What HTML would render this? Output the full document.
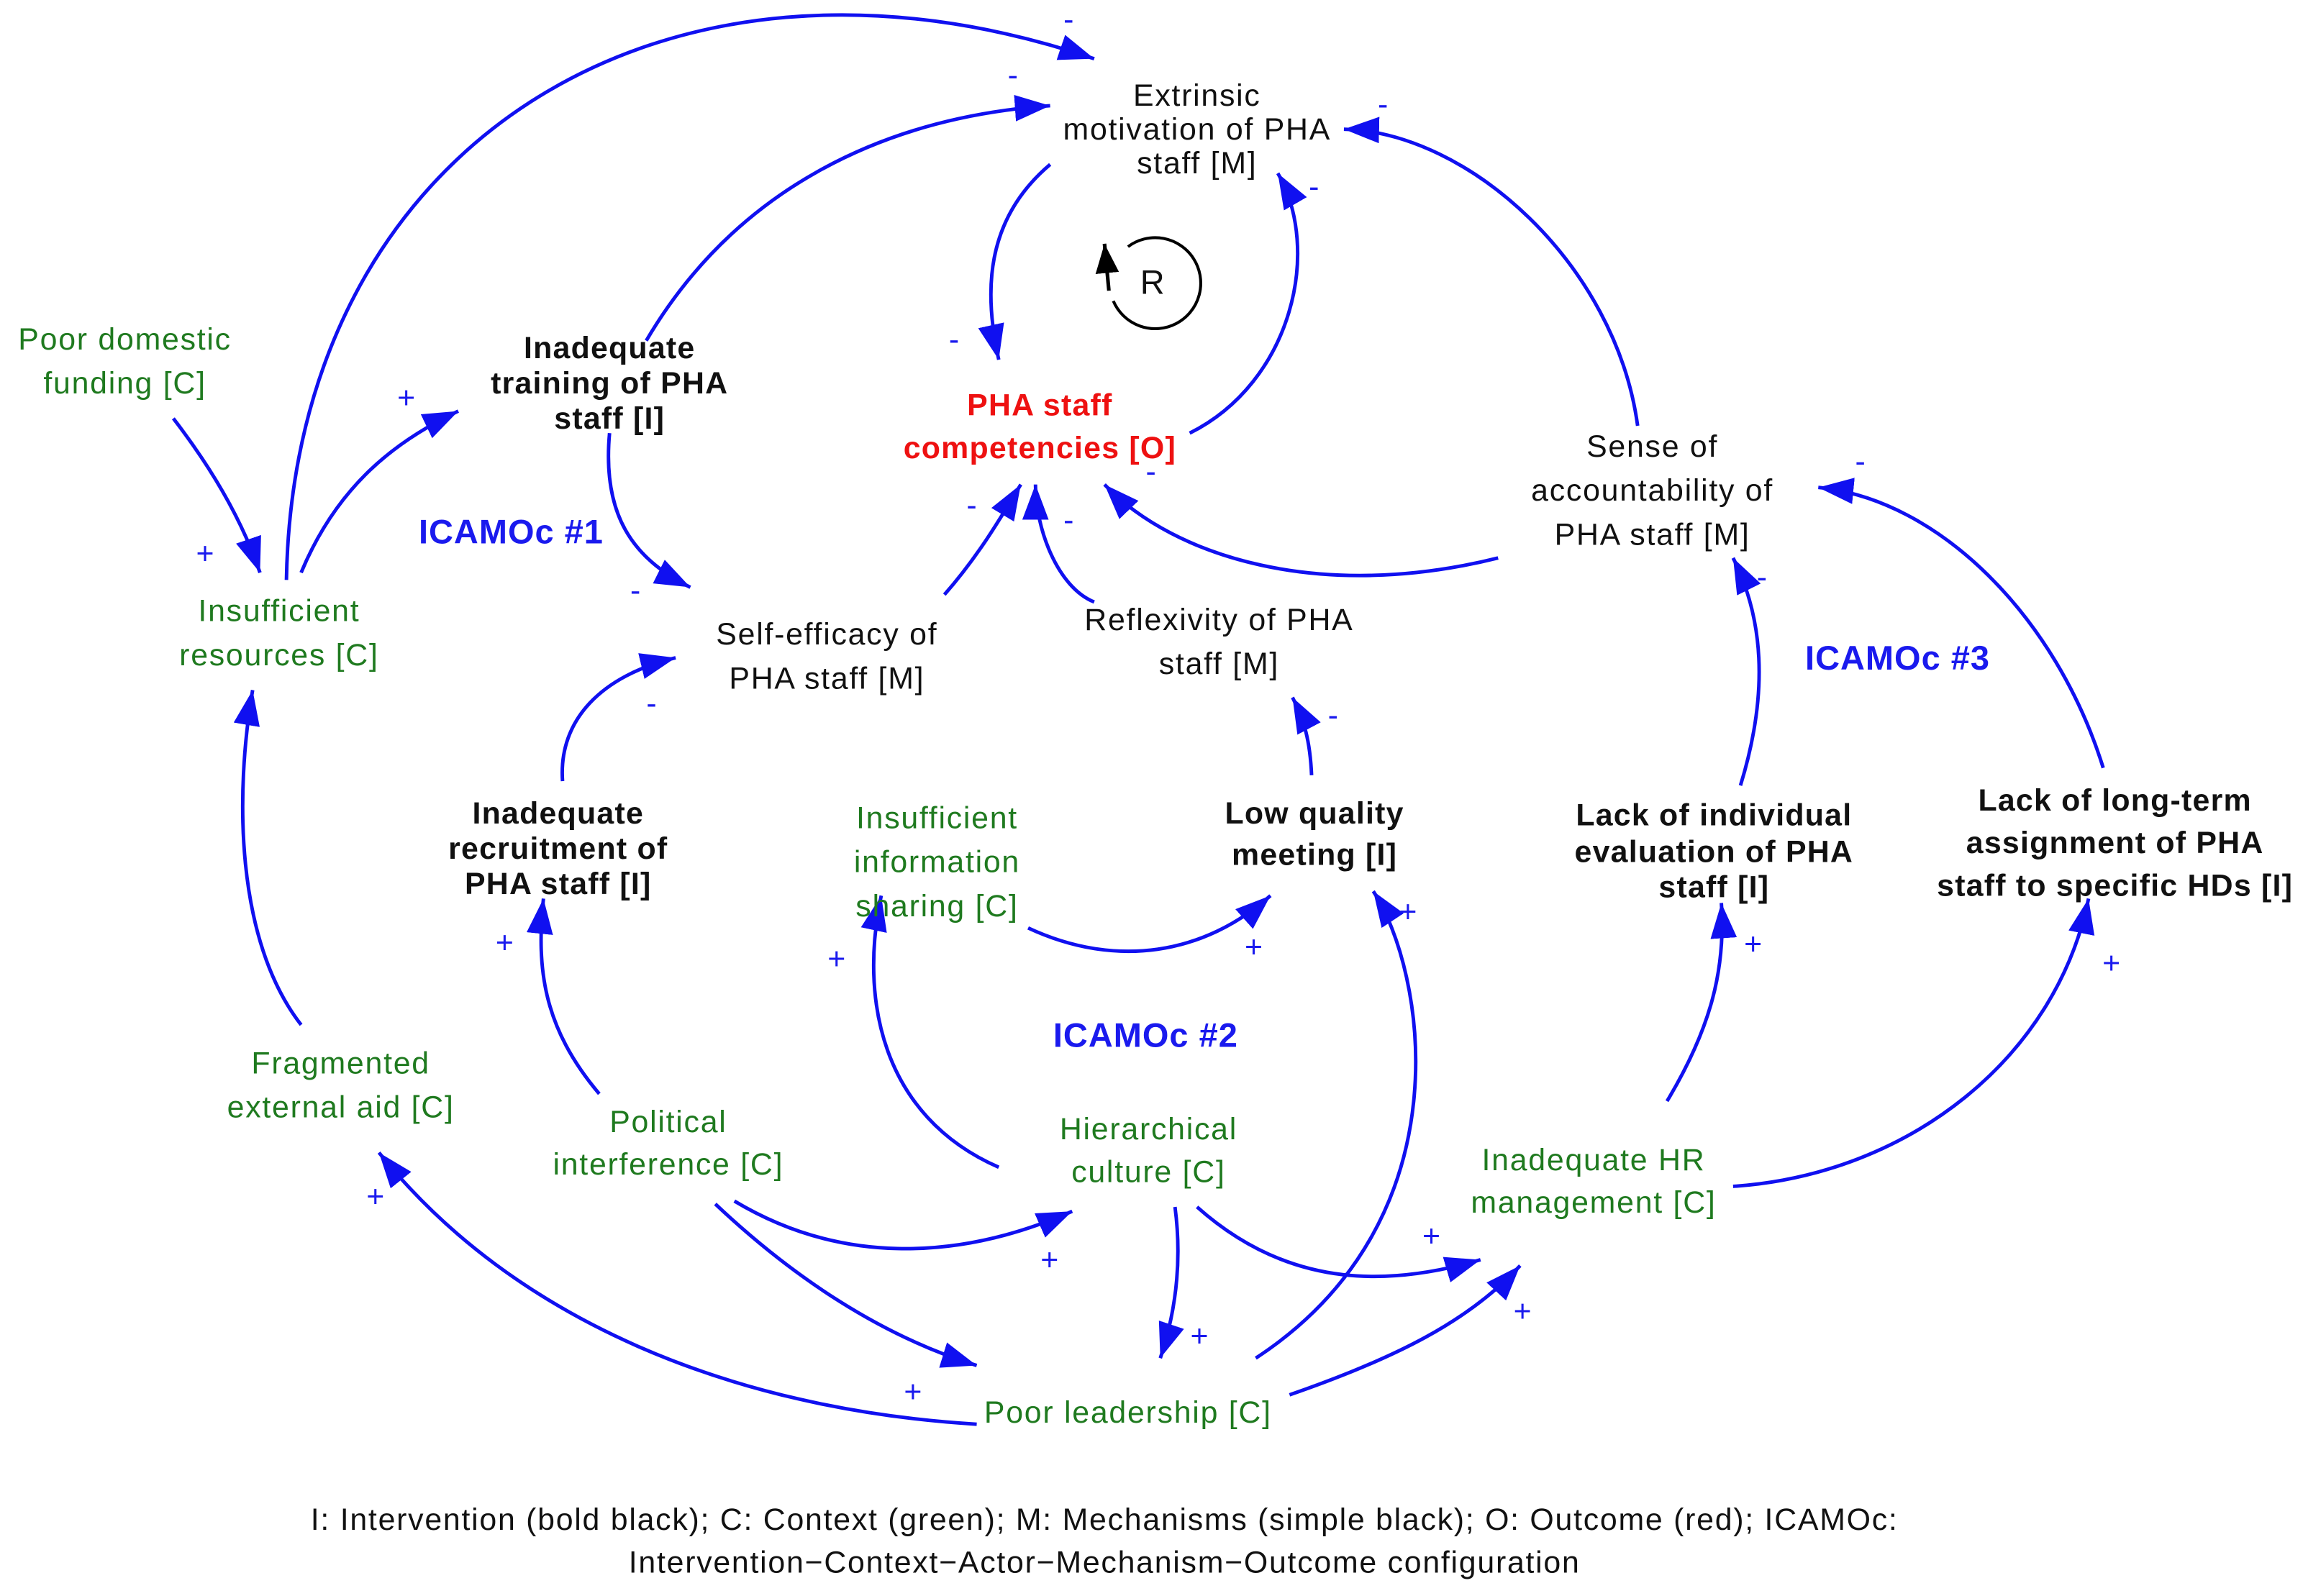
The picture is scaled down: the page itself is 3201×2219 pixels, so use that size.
<!DOCTYPE html>
<html><head><meta charset="utf-8"><style>
html,body{margin:0;padding:0;background:#fff;}
svg{display:block;}
text{font-family:"Liberation Sans","DejaVu Sans",sans-serif;font-size:21px;text-anchor:middle;letter-spacing:0.85px;}
.g{fill:#1f7a1f;}
.k{fill:#111;}
.b{font-weight:bold;fill:#111;letter-spacing:0.6px;}
.r{font-weight:bold;fill:#ee1111;letter-spacing:0.6px;}
.ic{font-weight:bold;fill:#1a1aee;font-size:23px;letter-spacing:0.5px;}
.s{fill:#1a1aee;font-size:24px;letter-spacing:0;}
path.a{fill:none;stroke:#1010f0;stroke-width:2.4;marker-end:url(#ah);}
</style></head><body>
<svg width="3201" height="2219" viewBox="0 0 1568 1087" xmlns="http://www.w3.org/2000/svg">
<defs>
<marker id="ah" markerUnits="userSpaceOnUse" markerWidth="26" markerHeight="20" refX="24" refY="9" orient="auto">
<path d="M0,0 L24,9 L0,18 z" fill="#1010f0"/>
</marker>
<marker id="bk" markerUnits="userSpaceOnUse" markerWidth="22" markerHeight="20" refX="20" refY="8" orient="auto">
<path d="M0,0 L20,8 L0,16 z" fill="#000"/>
</marker>
</defs>

<path class="a" d="M195,395 C200,100 450,-60 745,40"/>
<path class="a" d="M440,232 C500,130 600,80 715,72"/>
<path class="a" d="M715,112 C670,150 670,200 680,245"/>
<path class="a" d="M810,295 C880,260 900,170 870,118"/>
<path class="a" d="M1115,290 C1100,180 1000,90 915,88"/>
<path class="a" d="M118,285 C145,320 165,355 177,390"/>
<path class="a" d="M205,390 C230,330 270,300 312,280"/>
<path class="a" d="M415,295 C410,350 430,380 470,400"/>
<path class="a" d="M643,405 C665,380 680,355 695,330"/>
<path class="a" d="M745,410 C720,400 705,360 705,330"/>
<path class="a" d="M1020,380 C900,410 800,380 752,330"/>
<path class="a" d="M383,532 C380,490 410,460 460,448"/>
<path class="a" d="M408,745 C370,700 365,660 370,612"/>
<path class="a" d="M205,698 C160,640 160,540 172,470"/>
<path class="a" d="M893,528 C892,505 888,490 880,475"/>
<path class="a" d="M1185,535 C1205,470 1200,420 1180,380"/>
<path class="a" d="M1432,523 C1400,420 1320,340 1238,332"/>
<path class="a" d="M700,632 C760,660 820,650 865,610"/>
<path class="a" d="M680,795 C600,760 585,680 600,610"/>
<path class="a" d="M855,925 C1000,830 970,660 935,607"/>
<path class="a" d="M1135,750 C1165,700 1175,660 1172,615"/>
<path class="a" d="M1180,808 C1300,800 1400,720 1422,612"/>
<path class="a" d="M500,818 C570,860 650,860 730,825"/>
<path class="a" d="M487,820 C540,870 600,910 665,930"/>
<path class="a" d="M800,822 C805,860 800,895 790,925"/>
<path class="a" d="M815,822 C880,880 950,875 1008,858"/>
<path class="a" d="M878,950 C950,925 1000,900 1035,862"/>
<path class="a" d="M665,970 C500,960 350,900 258,785"/>

<path d="M768,168 A31,31 0 1 1 758,205" fill="none" stroke="#000" stroke-width="2"/>
<path d="M755,198 L752,166" fill="none" stroke="#000" stroke-width="2.5" marker-end="url(#bk)"/>
<text x="785" y="200" class="k" style="font-size:23px">R</text>

<g class="s">
<text x="728" y="20">-</text><text x="690" y="58">-</text><text x="650" y="238">-</text>
<text x="895" y="134">-</text><text x="784" y="328">-</text><text x="942" y="78">-</text>
<text x="140" y="384">+</text><text x="277" y="278">+</text><text x="433" y="409">-</text>
<text x="662" y="351">-</text><text x="728" y="361">-</text><text x="444" y="486">-</text>
<text x="344" y="649">+</text><text x="908" y="494">-</text><text x="1200" y="400">-</text>
<text x="1267" y="321">-</text><text x="854" y="652">+</text><text x="570" y="660">+</text>
<text x="959" y="628">+</text><text x="1194" y="650">+</text><text x="1438" y="663">+</text>
<text x="715" y="865">+</text><text x="622" y="955">+</text><text x="817" y="917">+</text>
<text x="975" y="849">+</text><text x="1037" y="900">+</text><text x="256" y="822">+</text>
</g>

<text class="k" x="815" y="72">Extrinsic</text>
<text class="k" x="815" y="95">motivation of PHA</text>
<text class="k" x="815" y="118">staff [M]</text>

<text class="r" x="708" y="283">PHA staff</text>
<text class="r" x="708" y="312">competencies [O]</text>

<text class="g" x="85" y="238">Poor domestic</text>
<text class="g" x="85" y="268">funding [C]</text>

<text class="b" x="415" y="244">Inadequate</text>
<text class="b" x="415" y="268">training of PHA</text>
<text class="b" x="415" y="292">staff [I]</text>

<text class="ic" x="348" y="370">ICAMOc #1</text>

<text class="g" x="190" y="423">Insufficient</text>
<text class="g" x="190" y="453">resources [C]</text>

<text class="k" x="563" y="439">Self-efficacy of</text>
<text class="k" x="563" y="469">PHA staff [M]</text>

<text class="k" x="830" y="429">Reflexivity of PHA</text>
<text class="k" x="830" y="459">staff [M]</text>

<text class="k" x="1125" y="311">Sense of</text>
<text class="k" x="1125" y="341">accountability of</text>
<text class="k" x="1125" y="371">PHA staff [M]</text>

<text class="ic" x="1292" y="456">ICAMOc #3</text>

<text class="b" x="380" y="561">Inadequate</text>
<text class="b" x="380" y="585">recruitment of</text>
<text class="b" x="380" y="609">PHA staff [I]</text>

<text class="g" x="638" y="564">Insufficient</text>
<text class="g" x="638" y="594">information</text>
<text class="g" x="638" y="624">sharing [C]</text>

<text class="b" x="895" y="561">Low quality</text>
<text class="b" x="895" y="589">meeting [I]</text>

<text class="b" x="1167" y="562">Lack of individual</text>
<text class="b" x="1167" y="587">evaluation of PHA</text>
<text class="b" x="1167" y="611">staff [I]</text>

<text class="b" x="1440" y="552">Lack of long-term</text>
<text class="b" x="1440" y="581">assignment of PHA</text>
<text class="b" x="1440" y="610">staff to specific HDs [I]</text>

<text class="ic" x="780" y="713">ICAMOc #2</text>

<text class="g" x="232" y="731">Fragmented</text>
<text class="g" x="232" y="761">external aid [C]</text>

<text class="g" x="455" y="771">Political</text>
<text class="g" x="455" y="800">interference [C]</text>

<text class="g" x="782" y="776">Hierarchical</text>
<text class="g" x="782" y="805">culture [C]</text>

<text class="g" x="1085" y="797">Inadequate HR</text>
<text class="g" x="1085" y="826">management [C]</text>

<text class="g" x="768" y="969">Poor leadership [C]</text>

<text class="k" x="752" y="1042">I: Intervention (bold black); C: Context (green); M: Mechanisms (simple black); O: Outcome (red); ICAMOc:</text>
<text class="k" x="752" y="1071">Intervention−Context−Actor−Mechanism−Outcome configuration</text>
</svg>
</body></html>
